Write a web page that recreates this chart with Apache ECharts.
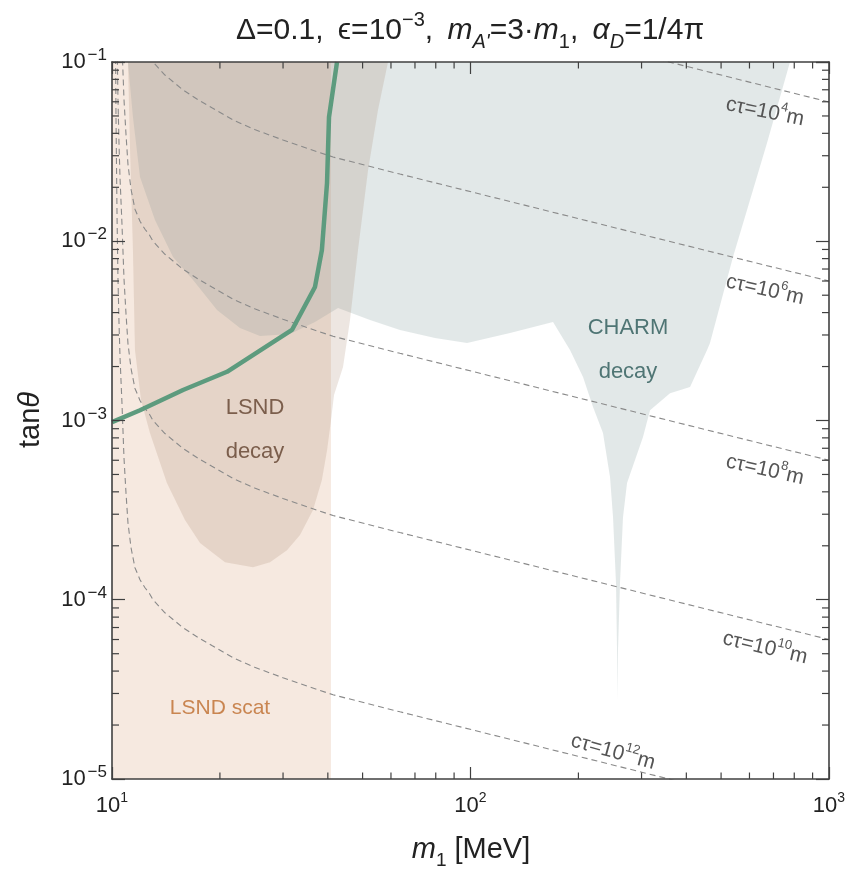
<!DOCTYPE html>
<html><head><meta charset="utf-8">
<script src="https://cdn.jsdelivr.net/npm/echarts@6/dist/echarts.min.js"></script>
<style>html,body{margin:0;padding:0;background:#fff}#c{width:853px;height:872px}</style>
</head><body><div id="c"></div>
<script>
// ---------- data ----------
const xMajorTicks = [10, 100, 1000];
const yMajorTicks = [1e-5, 1e-4, 1e-3, 1e-2, 1e-1];
const xMinorTicks = [20,30,40,50,60,70,80,90,200,300,400,500,600,700,800,900];
const yMinorTicks = [2e-5,3e-5,4e-5,5e-5,6e-5,7e-5,8e-5,9e-5,
                     2e-4,3e-4,4e-4,5e-4,6e-4,7e-4,8e-4,9e-4,
                     2e-3,3e-3,4e-3,5e-3,6e-3,7e-3,8e-3,9e-3,
                     2e-2,3e-2,4e-2,5e-2,6e-2,7e-2,8e-2,9e-2];

const lsndScat = [[10,1e-5],[40.8,1e-5],[40.8,0.1],[10,0.1]];

const lsndDecay = [[11.08,0.1],[11.23,0.0323],[11.44,0.00894],[11.59,0.00247],[12.05,0.0013],
  [12.76,0.000852],[14.23,0.000448],[15.98,0.000279],[17.6,0.000207],[20.66,0.000162],
  [24.74,0.000152],[27.59,0.000162],[30.77,0.000189],[33.45,0.00023],[36.37,0.000317],
  [38.5,0.000466],[39.81,0.000684],[40.83,0.001006],[41.62,0.001388],[44.1,0.00199],
  [46.12,0.00364],[48.55,0.00894],[51.8,0.025],[55.2,0.054],[58.88,0.1]];

const charmDecay = [[11.08,0.1],[11.44,0.0493],[11.97,0.0228],[13.18,0.01314],[14.8,0.00817],
  [16.83,0.00608],[19.63,0.00413],[22.75,0.00328],[25.87,0.00296],[31.37,0.00304],
  [36.83,0.00354],[42.71,0.00424],[52.44,0.00364],[63.58,0.0032],[79.6,0.00289],
  [97.8,0.00271],[128.9,0.00308],[169.9,0.00354],[189.5,0.00247],[206,0.00175],
  [219.7,0.00119],[234.2,0.000852],[245,0.000484],[249.8,0.000289],[254.6,0.000124],
  [256.3,0.0000524],[257.1,0.0000276],[257.9,0.0000524],[261.2,0.000124],[266.3,0.000289],
  [273.3,0.000448],[302.8,0.000809],[316.8,0.00114],[360.2,0.00142],[409.6,0.00154],
  [456.9,0.00247],[465.6,0.00271],[539.7,0.00817],[671.6,0.0353],[778.3,0.1]];

const boundLine = [[10,0.00098],[11.97,0.00114],[15.78,0.00148],[20.93,0.00187],[31.77,0.0032],
  [36.83,0.00556],[38.5,0.00894],[39.79,0.0211],[40.3,0.0493],[42.43,0.1]];

const ctMass = [10.227,10.26,10.33,10.39,10.46,10.53,10.66,10.80,10.94,11.08,11.30,11.59,11.97,
  12.36,12.68,13.01,14.05,15.78,17.6,19.0,21.76,25.0,29.99,35.0,41.36,63.58,120.9,229.7,436.8,1000];
const ct4Mass = [229.7,436.8,1000];
const ct4 = [0.1248,0.0905,0.0598];
const ct6 = [136,48.9,13.5,6.26,3.51,2.24,1.256,0.62,0.395,0.269,0.195,0.151,0.1293,
  0.1167,0.1094,0.1,0.0846,0.0698,0.0606,0.0555,0.0475,0.042,0.0367,0.033,0.0295,0.0237,0.0172,0.01248,0.00905,0.0060];
const ct8 = [13.6,4.89,1.35,0.626,0.351,0.224,0.1256,0.062,0.0395,0.0269,0.0195,0.0151,0.01293,
  0.01167,0.01094,0.01,0.00846,0.00698,0.00606,0.00555,0.00475,0.0042,0.00367,0.0033,0.00295,0.00237,0.00172,0.001248,0.000905,0.00060];
const ct10 = [1.36,0.489,0.135,0.0626,0.0351,0.0224,0.01256,0.0062,0.00395,0.00269,0.00195,0.00151,0.001293,
  0.001167,0.001094,0.001,0.000846,0.000698,0.000606,0.000555,0.000475,0.00042,0.000367,0.00033,0.000295,0.000237,0.000172,0.0001248,0.0000905,0.000060];
const ct12 = [0.136,0.0489,0.0135,0.00626,0.00351,0.00224,0.001256,0.00062,0.000395,0.000269,0.000195,0.000151,0.0001293,
  0.0001167,0.0001094,0.0001,0.0000846,0.0000698,0.0000606,0.0000555,0.0000475,0.000042,0.0000367,0.000033,0.0000295,0.0000237,0.0000172,0.00001248,0.00000905,0.0000060];

// ---------- chart ----------
const FONT = "'Liberation Sans', Arial, Helvetica, sans-serif";
const chart = echarts.init(document.getElementById('c'), null, {renderer:'canvas'});
const pair = (xs, ys) => xs.map((x,i) => [x, ys[i]]);

function expLabel(v){
  const e = Math.round(Math.log10(v));
  return '{b|10}{s|' + (e < 0 ? '\u2212' + (-e) : e) + '}';
}
const xLabelRich = {
  b:{fontSize:22, fontFamily:FONT, color:'#222', lineHeight:30},
  s:{fontSize:14, fontFamily:FONT, color:'#222', lineHeight:14, verticalAlign:'top'}
};
const yLabelRich = {
  b:{fontSize:22, fontFamily:FONT, color:'#222', lineHeight:30},
  s:{fontSize:17, fontFamily:FONT, color:'#222', lineHeight:15, verticalAlign:'top', padding:[0,0,0,2]}
};
const frame = {show:true, onZero:false, lineStyle:{color:'#404040', width:1.6}};
const majTick = len => ({show:true, inside:true, length:len, lineStyle:{color:'#404040', width:1.2}});

function poly(pts, color, z){
  return {type:'custom', silent:true, z:z, data:pts,
    renderItem:(params, api) => params.dataIndex === 0 ?
      {type:'polygon', shape:{points: pts.map(p => api.coord(p))}, style:{fill:color}} : null};
}
function ticks(vals, axis){
  return {type:'custom', silent:true, z:6,
    data: vals.map(v => axis === 'x' ? [v, 1e-3] : [100, v]),
    renderItem:(params, api) => {
      const cs = params.coordSys;
      const p = api.coord([api.value(0), api.value(1)]);
      const st = {stroke:'#404040', lineWidth:1.2};
      if (axis === 'x') {
        const b = cs.y + cs.height, t = cs.y;
        return {type:'group', children:[
          {type:'line', shape:{x1:p[0], y1:b, x2:p[0], y2:b-6.5}, style:st},
          {type:'line', shape:{x1:p[0], y1:t, x2:p[0], y2:t+6.5}, style:st}]};
      }
      const l = cs.x, r = cs.x + cs.width;
      return {type:'group', children:[
        {type:'line', shape:{x1:l, y1:p[1], x2:l+7, y2:p[1]}, style:st},
        {type:'line', shape:{x1:r, y1:p[1], x2:r-7, y2:p[1]}, style:st}]};
    }};
}
function ctLine(data){
  return {type:'line', data:data, showSymbol:false, silent:true, z:4, clip:true, smooth:false,
    lineStyle:{color:'#8a8a8a', width:1.1, type:[6,4]}};
}

const txtRich = (size, color, ss) => {
  const s2 = Math.round(size*(ss||0.64));
  return {
  n:{fontSize:size, fontFamily:FONT, fill:color, lineHeight:Math.round(size*1.4)},
  i:{fontSize:size, fontFamily:FONT, fill:color, fontStyle:'italic', lineHeight:Math.round(size*1.4)},
  sup:{fontSize:s2, fontFamily:FONT, fill:color, lineHeight:s2, verticalAlign:'top'},
  sub:{fontSize:s2, fontFamily:FONT, fill:color, lineHeight:s2, verticalAlign:'bottom'},
  subi:{fontSize:s2, fontFamily:FONT, fill:color, fontStyle:'italic', lineHeight:s2, verticalAlign:'bottom'}
  };
};
function rtext(x, y, text, size, color, rot, ss){
  return {type:'text', x:x, y:y, rotation:rot||0, z:100, silent:true,
    style:{text:text, rich:txtRich(size, color, ss), align:'center', verticalAlign:'middle', fill:color,
      font: size + 'px ' + FONT}};
}
function ptext(x, y, text, size, color){
  return {type:'text', x:x, y:y, z:100, silent:true,
    style:{text:text, align:'center', verticalAlign:'middle', fill:color, font: size + 'px ' + FONT, lineHeight: size*2}};
}

const option = {
  backgroundColor:'#fff',
  animation:false,
  grid:{left:112, right:24, top:62, bottom:93, containLabel:false},
  xAxis:[
    {type:'log', logBase:10, min:10, max:1000, position:'bottom', z:10,
     axisLine:frame, axisTick:majTick(12), splitLine:{show:false},
     axisLabel:{margin:12, formatter:expLabel, rich:xLabelRich}},
    {type:'log', logBase:10, min:10, max:1000, position:'top', z:10,
     axisLine:frame, axisTick:majTick(12), splitLine:{show:false}, axisLabel:{show:false}}
  ],
  yAxis:[
    {type:'log', logBase:10, min:1e-5, max:1e-1, position:'left', z:10,
     axisLine:frame, axisTick:majTick(13), splitLine:{show:false},
     axisLabel:{margin:5, formatter:expLabel, rich:yLabelRich}},
    {type:'log', logBase:10, min:1e-5, max:1e-1, position:'right', z:10,
     axisLine:frame, axisTick:majTick(13), splitLine:{show:false}, axisLabel:{show:false}}
  ],
  series:[
    poly(lsndScat, 'rgb(246,233,224)', 1),
    poly(charmDecay, 'rgba(158,178,178,0.3)', 2),
    poly(lsndDecay, 'rgba(166,128,104,0.2)', 3),
    ctLine(pair(ct4Mass, ct4)),
    ctLine(pair(ctMass, ct6)),
    ctLine(pair(ctMass, ct8)),
    ctLine(pair(ctMass, ct10)),
    ctLine(pair(ctMass, ct12)),
    {type:'line', data:boundLine, showSymbol:false, silent:true, z:5, clip:true,
     lineStyle:{color:'#5d9b7e', width:4.5}},
    ticks(xMinorTicks, 'x'),
    ticks(yMinorTicks, 'y')
  ],
  graphic:[
    rtext(470, 31, '{n|\u0394=0.1,\u2009 \u03f5=10}{sup|\u22123}{n|,\u2009 }{i|m}{subi|A\'}{n|=3\u00b7}{i|m}{sub|1}{n|,\u2009 }{i|\u03b1}{subi|D}{n|=1/4\u03c0}', 30, '#222', 0, 0.68),
    rtext(471, 850, '{i|m}{sub|1}{n| [MeV]}', 29, '#222', 0, 0.66),
    rtext(31, 420, '{n|tan}{i|\u03b8}', 29, '#222', Math.PI/2),
    ptext(628, 350, 'CHARM\ndecay', 22, '#4f7574'),
    ptext(255, 430, 'LSND\ndecay', 22, '#7b5e4c'),
    ptext(220, 708, 'LSND scat', 21, '#c98550'),
    rtext(765, 112, '{n|c\u03c4=10}{sup|4}{n|m}', 21, '#555', -0.2),
    rtext(765, 290, '{n|c\u03c4=10}{sup|6}{n|m}', 21, '#555', -0.22),
    rtext(765, 470, '{n|c\u03c4=10}{sup|8}{n|m}', 21, '#555', -0.22),
    rtext(765, 648, '{n|c\u03c4=10}{sup|10}{n|m}', 21, '#555', -0.23),
    rtext(613, 752, '{n|c\u03c4=10}{sup|12}{n|m}', 21, '#555', -0.27)
  ]
};
chart.setOption(option);
</script>
</body></html>
